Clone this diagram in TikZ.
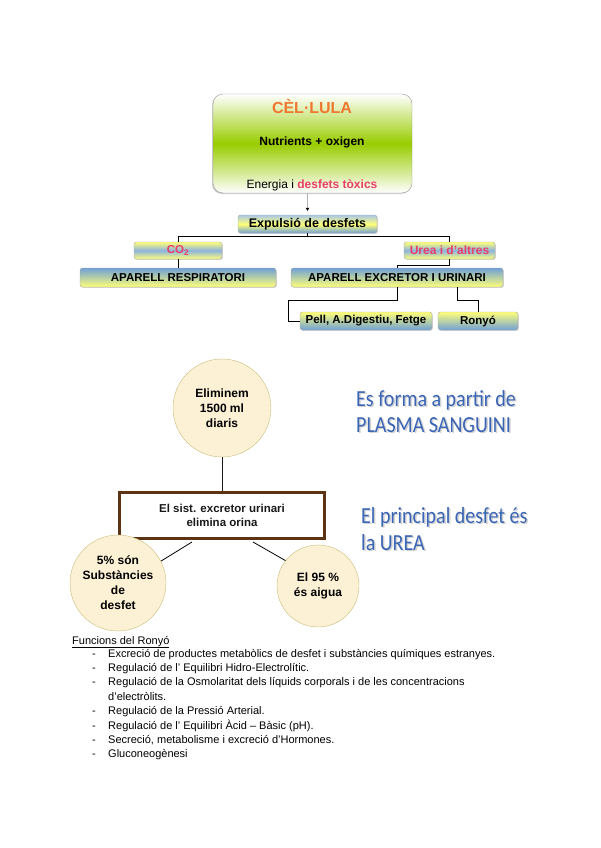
\documentclass[tikz,border=0pt]{standalone}
\usepackage{fontspec}
\setmainfont{Liberation Sans}
\newfontfamily\calib{Carlito}
\usetikzlibrary{arrows.meta,shadows,calc}

\definecolor{boxyel}{RGB}{255,255,120}
\definecolor{boxblu}{RGB}{112,160,214}
\definecolor{cellgreen}{RGB}{153,204,0}
\definecolor{titleorange}{RGB}{238,120,50}
\definecolor{wastepink}{RGB}{232,62,106}
\definecolor{circfill}{RGB}{252,241,212}
\definecolor{circline}{RGB}{200,188,120}
\definecolor{rectbrown}{RGB}{92,52,20}
\definecolor{slogancol}{RGB}{58,100,180}

\tikzset{
  bar/.style={rounded corners=2.5pt, draw=gray!70, inner sep=0pt,
    font=\bfseries\fontsize{11.5}{13}\selectfont,
    drop shadow={shadow xshift=.8pt, shadow yshift=-.8pt, opacity=.35}},
  bluyel/.style={bar, top color=boxblu, bottom color=boxyel},
  yelblu/.style={bar, top color=boxyel, bottom color=boxblu},
  yelbluyel/.style={bar, top color=boxyel, bottom color=boxyel, middle color=boxblu!80},
  blu-yel-blu/.style={bar, top color=boxblu!60, bottom color=boxblu, middle color=boxyel},
  bubble/.style={circle, draw=circline, fill=circfill, inner sep=0pt, align=center,
    font=\bfseries\fontsize{12}{15}\selectfont},
  slogantxt/.style={anchor=base west, inner sep=0pt, text=slogancol, xscale=.87,
    font=\calib\fontsize{23}{26}\selectfont},
  slogansh/.style={slogantxt, text=gray!35},
  listtxt/.style={anchor=base west, inner sep=0pt, font=\fontsize{11}{13}\selectfont},
}

\newcommand\slogan[3]{%
  \node[slogansh] at ($(#2)+(1.5,1.5)$) {#3};
  \node[slogantxt] (#1) at (#2) {#3};}

\begin{document}
\begin{tikzpicture}[x=1pt,y=-1pt]
  \useasboundingbox (0,0) rectangle (600,848);

  % cell
  \node[rounded corners=10pt, draw=gray!80, minimum width=199, minimum height=99,
    top color=white, bottom color=white, middle color=cellgreen,
    drop shadow={shadow xshift=-1pt, shadow yshift=-1pt, opacity=.4}] (cell) at (312.5,143.5) {};
  \node[text=titleorange, font=\bfseries\fontsize{16}{18}\selectfont] (title) at (312,106) {CÈL·LULA};
  \node[font=\bfseries\fontsize{12}{14}\selectfont] (nutr) at (312,142) {Nutrients + oxigen};
  \node[font=\fontsize{12}{14}\selectfont] (energ) at (312,185)
    {Energia i \textcolor{wastepink}{\bfseries desfets tòxics}};

  % tree
  \node[blu-yel-blu, minimum width=139, minimum height=18, font=\bfseries\fontsize{12.5}{14}\selectfont] (expul) at (307.5,224) {Expulsió de desfets};
  \node[yelbluyel, minimum width=88, minimum height=17, text=wastepink] (co2) at (178,250.5) {CO\textsubscript{2}};
  \node[yelbluyel, minimum width=91, minimum height=17, text=wastepink, font=\bfseries\fontsize{12}{14}\selectfont] (urea) at (449.5,250.5) {Urea i d'altres};
  \node[bluyel, minimum width=196, minimum height=19] (resp) at (178,277.5) {APARELL RESPIRATORI};
  \node[bluyel, minimum width=212, minimum height=19] (excr) at (397,277.5) {APARELL EXCRETOR I URINARI};
  \node[yelblu, minimum width=132, minimum height=18] (pell) at (366,321) {Pell, A.Digestiu, Fetge};
  \node[yelblu, minimum width=80, minimum height=18] (ronyo) at (478,321) {Ronyó};

  \draw[gray!60, -{Triangle[length=3pt,width=3.5pt,black]}] (cell.south -| expul.north) -- ([yshift=4pt]expul.north);
  \coordinate (split) at (307.5,236);
  \draw (expul.south) -- (split) -| (co2.north);
  \draw (split) -| (urea.north);
  \draw (co2.south) -- (resp.north);
  \draw (urea.south) -- ++(0,6) -| (excr.north);
  \draw (excr.south) -- ++(0,13) -| ([xshift=-12pt]pell.west) -- (pell.west);
  \draw ([xshift=60pt]excr.south) -- ++(0,13) -| (ronyo.north);

  % urine
  \node[bubble, minimum size=98] (elim) at (222,408) {Eliminem\\1500 ml\\diaris};
  \node[draw=rectbrown, line width=3pt, minimum width=205, minimum height=46, align=center,
    text=gray!20!black, font=\bfseries\fontsize{11.5}{13.5}\selectfont] (sist) at (222,515.5)
    {El sist. excretor urinari\\elimina orina};
  \node[bubble, minimum size=96] (subst) at (118,583) {5\% són\\Substàncies\\de\\desfet};
  \node[bubble, minimum size=82] (aigua) at (318,586) {El 95 \%\\és aigua};

  \draw[gray!20!black, line width=.8pt] (elim.south) -- (sist.north);
  \draw[line width=.8pt] ([xshift=-30pt,yshift=-2pt]sist.south) -- (subst.27);
  \draw[line width=.8pt] ([xshift=31pt,yshift=-2pt]sist.south) -- (aigua.142);

  \slogan{plasma1}{356,406}{Es forma a partir de}
  \slogan{plasma2}{356,432}{PLASMA SANGUINI}
  \slogan{urea1}{361,523}{El principal desfet és}
  \slogan{urea2}{361,550}{la UREA}

  % list
  \node[listtxt] (func) at (72,644) {\underline{Funcions del Ronyó}};
  \foreach \txt [count=\i] in {
      Excreció de productes metabòlics de desfet i substàncies químiques estranyes.,
      Regulació de l' Equilibri Hidro-Electrolític.,
      Regulació de la Osmolaritat dels líquids corporals i de les concentracions,
      Regulació de la Pressió Arterial.,
      Regulació de l' Equilibri Àcid -- Bàsic (pH).,
      {Secreció, metabolisme i excreció d'Hormones.},
      Gluconeogènesi}{
    \pgfmathsetmacro\yy{657+14.4*(\i-1)+(\i>3)*14.4}
    \node[listtxt] (dash\i) at (92,\yy) {-};
    \node[listtxt] (item\i) at (108,\yy) {\txt};
  }
  \node[listtxt] (item3b) at (108,700.2) {d'electròlits.};
\end{tikzpicture}
\end{document}
